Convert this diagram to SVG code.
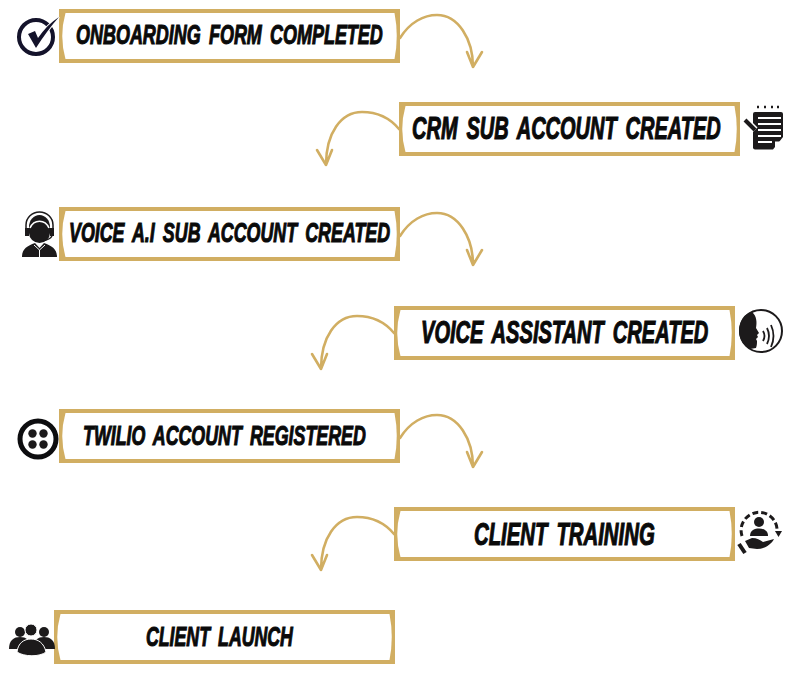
<svg xmlns="http://www.w3.org/2000/svg" width="800" height="680" viewBox="0 0 800 680">
<style>
.fr{fill:#d1ae62}
.in{fill:#fff}
.t{font-family:"Liberation Sans",sans-serif;font-weight:700;font-style:italic;font-size:28px;word-spacing:5px;fill:#0a0a0a;stroke:#0a0a0a;stroke-width:1.100}
.b{font-size:30.500px}
.a{fill:none;stroke:#d1ae62;stroke-width:2.600;stroke-linecap:round;stroke-linejoin:round}
.k{fill:#1c1a1b}
</style>
<defs>
<g id="frame">
<rect class="fr" width="341" height="54"/>
<path class="in" d="M6.500 4H335.500Q340 27 335.500 50H6.500Q0 27 6.500 4Z"/>
</g>
<g id="curveR"><path class="a" d="M0 29C10 13 24 6 37 6C58 6 73 30 73 58M67 43L73 58L82 43"/></g>
<g id="curveL"><path class="a" d="M0 26C-10 14 -22 9 -37 9C-58 9 -73 30 -73 62M-82 47L-73 62L-67 47"/></g>
</defs>
<g id="connectors">
<use href="#curveR" x="400" y="9"/>
<use href="#curveL" x="399" y="103"/>
<use href="#curveR" x="400" y="207"/>
<use href="#curveL" x="394" y="307"/>
<use href="#curveR" x="400" y="409"/>
<use href="#curveL" x="394" y="508"/>
</g>
<g id="node1">
<use href="#frame" x="59" y="9"/>
<text class="t" transform="translate(76 44) scale(.65 1)" textLength="472" lengthAdjust="spacingAndGlyphs">ONBOARDING FORM COMPLETED</text>
<circle cx="36" cy="37" r="17" fill="none" stroke="#14132b" stroke-width="4"/>
<path d="M28 34L35 31L38 38C44 29 51 22 59 17C51 26 43 37 36 48Z" fill="#14132b" stroke="#fff" stroke-width="2" paint-order="stroke"/>
</g>
<g id="node2">
<use href="#frame" x="399" y="102"/>
<text class="t b" transform="translate(412 139) scale(.65 1)" textLength="475" lengthAdjust="spacingAndGlyphs">CRM SUB ACCOUNT CREATED</text>
<path class="k" d="M755 112H781Q783 112 783 114V137L773 149.500H755Q753 149.500 753 147.500V114Q753 112 755 112Z"/>
<path d="M758 118H781M758 124H781M758 130H781M758 136H781M758 142H772" stroke="#fff" stroke-width="2"/>
<path d="M775 149V141.500H783Z" fill="#fff"/>
<path d="M745 120L755 130" stroke="#fff" stroke-width="7"/>
<path d="M745 120L755 130" stroke="#1c1a1b" stroke-width="4"/>
<path d="M757 107h2M764 107h2M771 107h2M777 107h2" stroke="#1c1a1b" stroke-width="2.500"/>
</g>
<g id="node3">
<use href="#frame" x="59" y="207"/>
<text class="t" transform="translate(69 242) scale(.65 1)" textLength="494" lengthAdjust="spacingAndGlyphs">VOICE A.I SUB ACCOUNT CREATED</text>
<path class="k" d="M29 227a10.500 12 0 0 1 21 0v6a10.500 10 0 0 1 -21 0Z"/>
<path d="M30 228C34 219 45 219 49 228" fill="none" stroke="#fff" stroke-width="1.600"/>
<path d="M26 232V225a13.500 13 0 0 1 27 0V232" fill="none" stroke="#1c1a1b" stroke-width="1.500"/>
<rect class="k" x="25" y="228" width="4" height="8"/><rect class="k" x="50" y="228" width="4" height="8"/>
<path d="M52 236Q50 240 41 241" fill="none" stroke="#1c1a1b" stroke-width="1.500"/>
<path class="k" d="M22 257C22 249 27 246 35 243L39.500 248L44 243C52 246 57 249 57 257Z"/>
<path d="M34 245L39.500 250L45 245M39.500 250V257" fill="none" stroke="#fff" stroke-width="1"/>
</g>
<g id="node4">
<use href="#frame" x="394" y="306"/>
<text class="t b" transform="translate(421 343) scale(.65 1)" textLength="442" lengthAdjust="spacingAndGlyphs">VOICE ASSISTANT CREATED</text>
<circle cx="761" cy="331" r="21" fill="#fff" stroke="#1c1a1b" stroke-width="2"/>
<path class="k" d="M752 312C744 313 739 322 739 331C739 339 744 346 750 349L756 348C757 345 757 343 757 341L756 339L758 337L757 335L759 333L756 328C757 323 757 316 752 312Z"/>
<path d="M763 331Q766 336 763 341M767 328Q771 336 767 344M771 325Q776 336 771 347" fill="none" stroke="#1c1a1b" stroke-width="1.800"/>
</g>
<g id="node5">
<use href="#frame" x="59" y="409"/>
<text class="t" transform="translate(83 445) scale(.65 1)" textLength="435" lengthAdjust="spacingAndGlyphs">TWILIO ACCOUNT REGISTERED</text>
<circle cx="38" cy="439" r="18" fill="#fff" stroke="#0d0d0f" stroke-width="5"/>
<circle class="k" cx="32.500" cy="433.500" r="4.200"/><circle class="k" cx="43.500" cy="433.500" r="4.200"/>
<circle class="k" cx="32.500" cy="444.500" r="4.200"/><circle class="k" cx="43.500" cy="444.500" r="4.200"/>
</g>
<g id="node6">
<use href="#frame" x="394" y="507"/>
<text class="t b" transform="translate(474 545) scale(.65 1)" textLength="278" lengthAdjust="spacingAndGlyphs">CLIENT TRAINING</text>
<path d="M742 536A18 18 0 1 1 777 532" fill="none" stroke="#1c1a1b" stroke-width="3" stroke-dasharray="6 3"/>
<circle class="k" cx="759" cy="522" r="5"/>
<path class="k" d="M750 536C750 530 755 528.500 759 528.500C763 528.500 768 530 768 536Z"/>
<path class="k" d="M745 541L752 538C757 538 760 540 763 542L774 539C771 545 764 549 757 549L749 548Z"/>
<path d="M739 544L745 553" stroke="#1c1a1b" stroke-width="4"/>
<path class="k" d="M775 531H782L778.500 537Z"/>
</g>
<g id="node7">
<use href="#frame" x="54" y="610"/>
<text class="t" transform="translate(146 646) scale(.65 1)" textLength="226" lengthAdjust="spacingAndGlyphs">CLIENT LAUNCH</text>
<circle class="k" cx="20" cy="632" r="5"/><circle class="k" cx="44" cy="632" r="5"/>
<path class="k" d="M9 649C9 640 14 637 20 637C26 637 31 640 31 649Z"/>
<path class="k" d="M33 649C33 640 38 637 44 637C50 637 55 640 55 649Z"/>
<circle cx="31" cy="630" r="6" class="k" stroke="#fff"/>
<path class="k" stroke="#fff" d="M17 652C18 643 24 639 31 639C38 639 44 643 46 652C40 657 24 657 17 652Z"/>
</g>
</svg>
